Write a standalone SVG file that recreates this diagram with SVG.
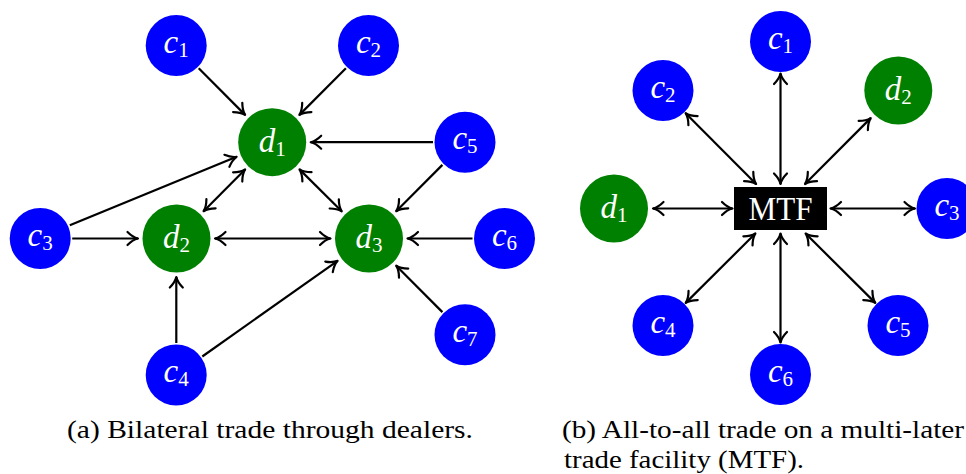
<svg xmlns="http://www.w3.org/2000/svg" width="966" height="474" viewBox="0 0 966 474">
  <style>
    .cn { fill: #0000ff; }
    .dn { fill: #008000; }
    .lbl { font-family: "Liberation Serif", "DejaVu Serif", serif; font-size: 33px; fill: #ffffff; text-anchor: middle; }
    .lbl .v { font-style: italic; }
    .lbl .s { font-size: 21px; }
    .edge { stroke: #000000; stroke-width: 2.2; fill: none; }
    .one { marker-end: url(#head); }
    .two { marker-start: url(#head); marker-end: url(#head); }
    .cap { font-family: "Liberation Serif", "DejaVu Serif", serif; font-size: 26px; fill: #000000; }
  </style>
  <defs>
    <marker id="head" viewBox="-14 -9 16 18" refX="0" refY="0" markerWidth="16" markerHeight="18" markerUnits="userSpaceOnUse" orient="auto-start-reverse">
      <path d="M-10.5,-6.5 C-7,-3 -3,-0.7 0,0 C-3,0.7 -7,3 -10.5,6.5" fill="none" stroke="#000000" stroke-width="2.2" stroke-linecap="round" stroke-linejoin="round"/>
    </marker>
  </defs>

  <!-- (a) bilateral network: connectors -->
  <g id="edges-a">
    <line class="edge one" x1="198.7" y1="68.2" x2="245.1" y2="114.9"/>
    <line class="edge one" x1="345.9" y1="68.2" x2="299.4" y2="114.9"/>
    <line class="edge one" x1="433" y1="142.2" x2="310.7" y2="142.2"/>
    <line class="edge one" x1="442.4" y1="164.9" x2="396.2" y2="211.2"/>
    <line class="edge one" x1="69.8" y1="225.3" x2="236.6" y2="156.8"/>
    <line class="edge one" x1="72.2" y1="238.5" x2="138" y2="238.5"/>
    <line class="edge two" x1="245.1" y1="169.5" x2="203.6" y2="211.2"/>
    <line class="edge two" x1="299.5" y1="169.4" x2="341.7" y2="211.3"/>
    <line class="edge two" x1="215" y1="238.5" x2="330.5" y2="238.5"/>
    <line class="edge one" x1="472.5" y1="238.5" x2="407.5" y2="238.5"/>
    <line class="edge one" x1="442.4" y1="312.1" x2="396.2" y2="265.7"/>
    <line class="edge one" x1="176.3" y1="343" x2="176.3" y2="277"/>
    <line class="edge one" x1="202.3" y1="356.5" x2="337.6" y2="260.8"/>
  </g>

  <!-- (a) nodes -->
  <g id="a-c1"><circle class="cn" cx="176.2" cy="45.5" r="30.5"/><text class="lbl" x="176.2" y="52.5"><tspan class="v">c</tspan><tspan class="s" dy="4">1</tspan></text></g>
  <g id="a-c2"><circle class="cn" cx="368.5" cy="45.5" r="30.5"/><text class="lbl" x="368.5" y="52.5"><tspan class="v">c</tspan><tspan class="s" dy="4">2</tspan></text></g>
  <g id="a-d1"><circle class="dn" cx="272.2" cy="142.2" r="34"/><text class="lbl" x="272.2" y="151.7"><tspan class="v">d</tspan><tspan class="s" dy="4">1</tspan></text></g>
  <g id="a-c5"><circle class="cn" cx="465" cy="142.2" r="30.5"/><text class="lbl" x="465" y="149.2"><tspan class="v">c</tspan><tspan class="s" dy="4">5</tspan></text></g>
  <g id="a-c3"><circle class="cn" cx="40.2" cy="238.5" r="30.5"/><text class="lbl" x="40.2" y="245.5"><tspan class="v">c</tspan><tspan class="s" dy="4">3</tspan></text></g>
  <g id="a-d2"><circle class="dn" cx="176.5" cy="238.5" r="34"/><text class="lbl" x="176.5" y="248"><tspan class="v">d</tspan><tspan class="s" dy="4">2</tspan></text></g>
  <g id="a-d3"><circle class="dn" cx="369" cy="238.5" r="34"/><text class="lbl" x="369" y="248"><tspan class="v">d</tspan><tspan class="s" dy="4">3</tspan></text></g>
  <g id="a-c6"><circle class="cn" cx="504.5" cy="238.5" r="30.5"/><text class="lbl" x="504.5" y="245.5"><tspan class="v">c</tspan><tspan class="s" dy="4">6</tspan></text></g>
  <g id="a-c7"><circle class="cn" cx="465" cy="334.7" r="30.5"/><text class="lbl" x="465" y="341.7"><tspan class="v">c</tspan><tspan class="s" dy="4">7</tspan></text></g>
  <g id="a-c4"><circle class="cn" cx="176.2" cy="375" r="30.5"/><text class="lbl" x="176.2" y="382"><tspan class="v">c</tspan><tspan class="s" dy="4">4</tspan></text></g>

  <!-- (b) multilateral facility: connectors -->
  <g id="edges-b">
    <line class="edge two" x1="780.5" y1="184" x2="780.5" y2="73.5"/>
    <line class="edge two" x1="780.5" y1="233.5" x2="780.5" y2="342.5"/>
    <line class="edge two" x1="732.5" y1="208.5" x2="653" y2="208.5"/>
    <line class="edge two" x1="830.5" y1="208.5" x2="915" y2="208.5"/>
    <line class="edge two" x1="756.1" y1="184" x2="685.6" y2="113.2"/>
    <line class="edge two" x1="805" y1="184" x2="870.7" y2="118.1"/>
    <line class="edge two" x1="755.4" y1="233.5" x2="685.7" y2="302.9"/>
    <line class="edge two" x1="805.6" y1="233.5" x2="875.3" y2="302.9"/>
  </g>

  <!-- (b) nodes -->
  <g id="b-mtf"><rect x="734" y="187" width="93" height="43" fill="#000000"/><text class="lbl" x="780.5" y="220" textLength="64" lengthAdjust="spacingAndGlyphs" style="font-size:34px">MTF</text></g>
  <g id="b-c1"><circle class="cn" cx="780.5" cy="41.5" r="30.5"/><text class="lbl" x="780.5" y="48.5"><tspan class="v">c</tspan><tspan class="s" dy="4">1</tspan></text></g>
  <g id="b-c2"><circle class="cn" cx="663" cy="90.5" r="30.5"/><text class="lbl" x="663" y="97.5"><tspan class="v">c</tspan><tspan class="s" dy="4">2</tspan></text></g>
  <g id="b-d2"><circle class="dn" cx="898.3" cy="90.5" r="34"/><text class="lbl" x="898.3" y="100"><tspan class="v">d</tspan><tspan class="s" dy="4">2</tspan></text></g>
  <g id="b-d1"><circle class="dn" cx="614" cy="208.5" r="34"/><text class="lbl" x="614" y="218"><tspan class="v">d</tspan><tspan class="s" dy="4">1</tspan></text></g>
  <g id="b-c3"><circle class="cn" cx="947" cy="208.5" r="30.5"/><text class="lbl" x="947" y="215.5"><tspan class="v">c</tspan><tspan class="s" dy="4">3</tspan></text></g>
  <g id="b-c4"><circle class="cn" cx="663" cy="325.5" r="30.5"/><text class="lbl" x="663" y="332.5"><tspan class="v">c</tspan><tspan class="s" dy="4">4</tspan></text></g>
  <g id="b-c5"><circle class="cn" cx="898" cy="325.5" r="30.5"/><text class="lbl" x="898" y="332.5"><tspan class="v">c</tspan><tspan class="s" dy="4">5</tspan></text></g>
  <g id="b-c6"><circle class="cn" cx="780.5" cy="374.5" r="30.5"/><text class="lbl" x="780.5" y="381.5"><tspan class="v">c</tspan><tspan class="s" dy="4">6</tspan></text></g>

  <!-- captions -->
  <text class="cap" x="67" y="438" textLength="406" lengthAdjust="spacingAndGlyphs">(a) Bilateral trade through dealers.</text>
  <text class="cap" x="562" y="438" textLength="402" lengthAdjust="spacingAndGlyphs">(b) All-to-all trade on a multi-later</text>
  <text class="cap" x="564" y="468" textLength="240" lengthAdjust="spacingAndGlyphs">trade facility (MTF).</text>
</svg>
